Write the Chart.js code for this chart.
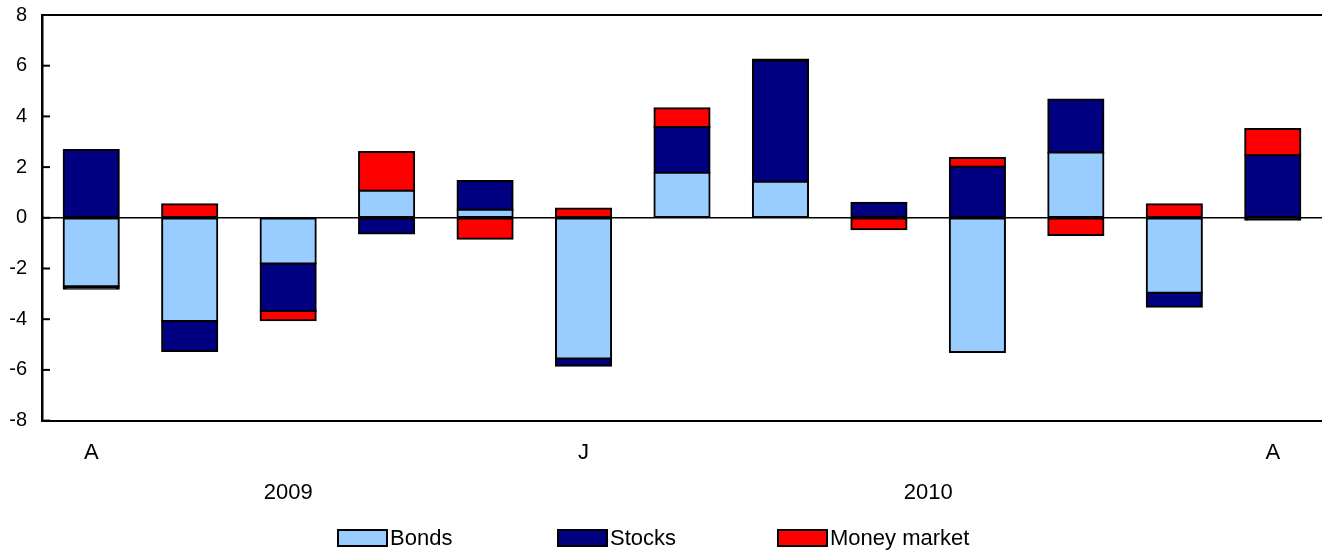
<!DOCTYPE html>
<html>
<head>
<meta charset="utf-8">
<script src="https://cdn.jsdelivr.net/npm/chart.js@4/dist/chart.umd.min.js"></script>
<style>
  html, body { margin: 0; padding: 0; background: #fff; }
  #wrap { width: 1322px; height: 555px; position: relative; }
</style>
</head>
<body>
<div id="wrap"><canvas id="flows"></canvas></div>
<script>
// months Aug 2009 .. Aug 2010, only a few are labelled on the axis
const months = ['A', 'S', 'O', 'N', 'D', 'J', 'F', 'M', 'A', 'M', 'J', 'J', 'A'];
const shownMonths = [0, 5, 12];
const years = ['2009', '2010'];
const yearPositions = [2, 8.5];   // category index the year label sits under

// net flows by asset class
const bonds  = [-2.70, -4.07, -1.80, 1.07, 0.32, -5.55, 1.78, 1.42, 0, -5.29, 2.58, -2.96, -0.08];
const stocks = [2.67, -1.18, -1.88, -0.62, 1.13, -0.29, 1.80, 4.78, 0.59, 2.01, 2.09, -0.55, 2.47];
const money  = [-0.10, 0.53, -0.36, 1.53, -0.83, 0.37, 0.74, 0.04, -0.45, 0.35, -0.68, 0.53, 1.03];

const COLORS = { 'Bonds': '#99CCFF', 'Stocks': '#000080', 'Money market': '#FF0000' };

const FONT = '"Liberation Sans", Arial, sans-serif';
const FSIZE = 22;     // x labels, years, legend
const YSIZE = 20;     // y axis numbers

// very thin segments come out as just the black outline, like the original
function fillFor(name) {
    return c => {
        const ys = c.chart.scales.y;
        if (ys && c.raw !== undefined) {
            const h = Math.abs(ys.getPixelForValue(c.raw) - ys.getPixelForValue(0));
            if (h < 4) return '#000';
        }
        return COLORS[name];
    };
}

// extras: inward ticks on the left axis, year row, fixed-spacing legend
const extras = {
    id: 'extras',
    afterDraw(chart) {
        const ctx = chart.ctx;
        const y = chart.scales.y;
        const x = chart.scales.x;
        const left = chart.chartArea.left;

        ctx.save();
        ctx.strokeStyle = '#000';
        ctx.lineWidth = 2;
        y.ticks.forEach(t => {
            const py = y.getPixelForValue(t.value);
            ctx.beginPath();
            ctx.moveTo(left, py);
            ctx.lineTo(left + 8, py);
            ctx.stroke();
        });

        ctx.fillStyle = '#000';
        ctx.font = FSIZE + 'px ' + FONT;
        ctx.textAlign = 'center';
        ctx.textBaseline = 'middle';
        years.forEach((yr, i) => {
            ctx.fillText(yr, x.getPixelForValue(yearPositions[i]), 493);
        });

        ctx.textAlign = 'left';
        chart.data.datasets.forEach((ds, i) => {
            const bx = 338 + i * 220;
            ctx.fillStyle = COLORS[ds.label];
            ctx.fillRect(bx, 530, 49, 16);
            ctx.lineWidth = 2;
            ctx.strokeStyle = '#000';
            ctx.strokeRect(bx, 530, 49, 16);
            ctx.fillStyle = '#000';
            ctx.fillText(ds.label, bx + 52, 539);
        });
        ctx.restore();
    }
};

const ctx = document.getElementById('flows').getContext('2d');
const flowsChart = new Chart(ctx, {
    type: 'bar',
    data: {
        labels: months,
        datasets: [
            { label: 'Bonds', data: bonds, backgroundColor: fillFor('Bonds') },
            { label: 'Stocks', data: stocks, backgroundColor: fillFor('Stocks') },
            { label: 'Money market', data: money, backgroundColor: fillFor('Money market') }
        ]
    },
    options: {
        responsive: true,
        maintainAspectRatio: false,
        animation: false,
        layout: { padding: { top: 15, right: 0, bottom: 70, left: 0 } },
        datasets: {
            bar: {
                borderColor: '#000',
                borderWidth: 2,
                inflateAmount: 1,
                borderSkipped: false,
                barPercentage: 0.56,
                categoryPercentage: 1
            }
        },
        plugins: {
            legend: { display: false },
            tooltip: { enabled: false }
        },
        scales: {
            x: {
                stacked: true,
                grid: { display: false, drawTicks: false },
                border: { display: false },
                ticks: {
                    autoSkip: false,
                    maxRotation: 0,
                    padding: 19,
                    color: '#000',
                    font: { family: FONT, size: FSIZE },
                    callback: (v, i) => shownMonths.includes(i) ? months[i] : ''
                }
            },
            y: {
                stacked: true,
                min: -8,
                max: 8,
                afterFit: s => { s.width = 42; s.paddingTop = 0; s.paddingBottom = 0; },
                grid: {
                    drawTicks: false,
                    color: c => (c.tick && [8, -8, 0].includes(c.tick.value)) ? '#000' : 'rgba(0,0,0,0)',
                    lineWidth: c => (c.tick && c.tick.value === 0) ? 1.5 : 2
                },
                border: { display: true, color: '#000', width: 2.5 },
                ticks: {
                    stepSize: 2,
                    padding: 15,
                    color: '#000',
                    font: { family: FONT, size: YSIZE }
                }
            }
        }
    },
    plugins: [extras]
});
</script>
</body>
</html>
